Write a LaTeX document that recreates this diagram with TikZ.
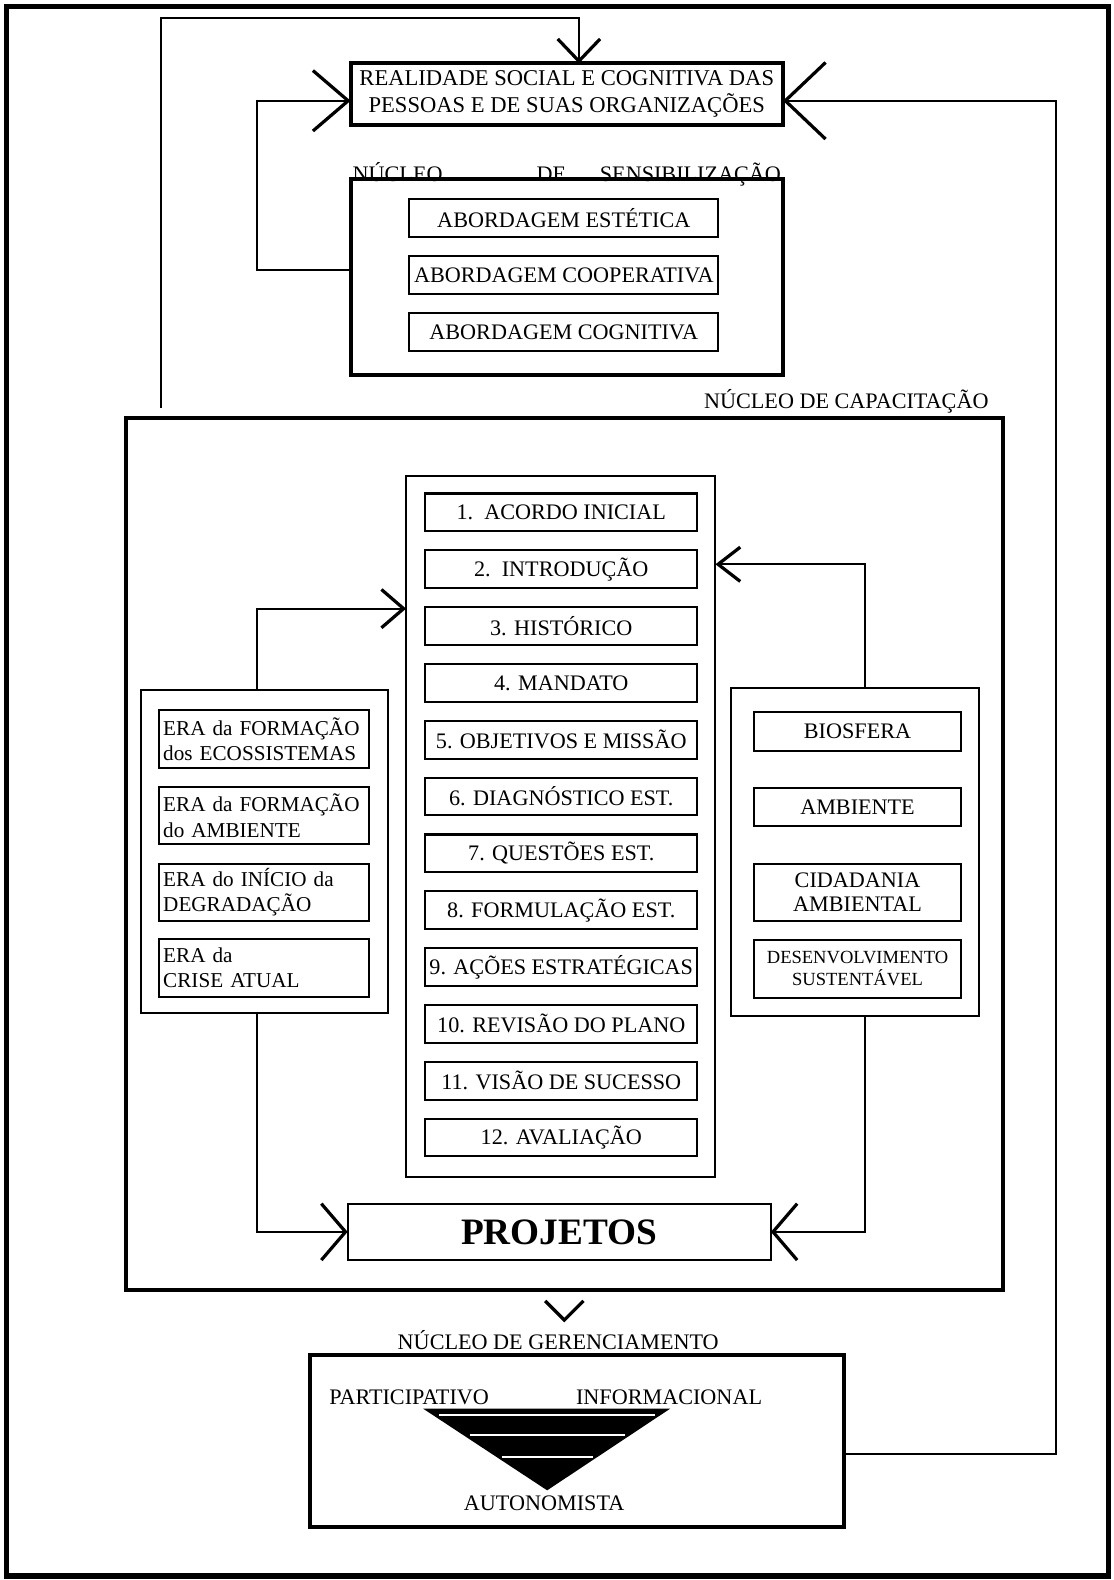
\documentclass[tikz,border=0pt]{standalone}
\usepackage{fontspec}
\setmainfont{Liberation Serif}
\usetikzlibrary{arrows.meta}

\begin{document}
\begin{tikzpicture}[x=0.5pt, y=-0.5pt,
    every node/.style={font=\fontsize{11}{13}\selectfont, inner sep=0pt, outer sep=0pt},
    nucleo/.style={draw, line width=2pt},
    caixa/.style={draw, line width=1pt, align=center},
    era/.style={draw, line width=1pt, align=left, text width=100pt, minimum height=28.5pt, inner xsep=2pt, font=\fontsize{10.5}{12.5}\selectfont},
    tema/.style={draw, line width=1pt, align=center, minimum width=103pt},
    etapa/.style={draw, line width=1pt, minimum width=135pt, minimum height=18.75pt},
    seta/.style 2 args={line width=1pt, -{Straight Barb[length=#1, width=#2, line width=1.6pt]}}]

    \useasboundingbox (0,0) rectangle (1105,1568);
    \draw[line width=2.5pt] (6,6) rectangle (1100,1564);

    % realidade
    \node[nucleo, align=center, minimum width=214.5pt, minimum height=30.5pt, font=\fontsize{11.2}{13.5}\selectfont] (realidade) at (562.5,93.5) {REALIDADE SOCIAL E COGNITIVA DAS\\PESSOAS E DE SUAS ORGANIZAÇÕES};

    % sensibilizacao
    \node[anchor=base] (sens_titulo) at (562.5,180) {\makebox[212.5pt][s]{NÚCLEO\hspace{\stretch{2.8}}DE\hspace{\stretch{1}}SENSIBILIZAÇÃO}};
    \node[nucleo, minimum width=214.5pt, minimum height=97pt] (sens) at (562.5,275) {};
    \foreach \t [count=\i] in {ESTÉTICA, COOPERATIVA, COGNITIVA}
        \node[caixa, minimum width=153.5pt, minimum height=19pt] (abord\i) at (559.5, {216+56.75*(\i-1)}) {ABORDAGEM \t};

    % capacitacao
    \node[anchor=base east] (cap_titulo) at (981,405) {NÚCLEO DE CAPACITAÇÃO};
    \node[nucleo, minimum width=435pt, minimum height=432.5pt] (cap) at (560,847.5) {};

    \node[draw, line width=1pt, minimum width=153.5pt, minimum height=348pt] (plano) at (556.5,820) {};
    \foreach \t [count=\i] in {1.\enspace ACORDO INICIAL, 2.\enspace INTRODUÇÃO, 3. HISTÓRICO, 4. MANDATO,
        5. OBJETIVOS E MISSÃO, 6. DIAGNÓSTICO EST., 7. QUESTÕES EST., 8. FORMULAÇÃO EST.,
        9. AÇÕES ESTRATÉGICAS, 10. REVISÃO DO PLANO, 11. VISÃO DE SUCESSO, 12. AVALIAÇÃO}
        \node[etapa] (etapa\i) at (557, {508.5+56.4*(\i-1)}) {\t};

    \node[draw, line width=1pt, minimum width=122.5pt, minimum height=160pt] (eras) at (262.5,845) {};
    \node[era] (era1) at (262,733.5) {ERA da FORMAÇÃO\\dos ECOSSISTEMAS};
    \node[era] (era2) at (262,809.5) {ERA da FORMAÇÃO\\do AMBIENTE};
    \node[era] (era3) at (262,885.5) {ERA do INÍCIO da\\DEGRADAÇÃO};
    \node[era] (era4) at (262,960.5) {ERA da\\CRISE ATUAL};

    \node[draw, line width=1pt, minimum width=123.5pt, minimum height=162.5pt] (temas) at (848.5,845.5) {};
    \node[tema, minimum height=19pt] (biosfera) at (851,726) {BIOSFERA};
    \node[tema, minimum height=19pt] (ambiente) at (851,801) {AMBIENTE};
    \node[tema, minimum height=28.5pt, font=\fontsize{11}{12}\selectfont] (cidadania) at (851,885.5) {CIDADANIA\\AMBIENTAL};
    \node[tema, minimum height=28.5pt, font=\fontsize{9.2}{11}\selectfont] (desenv) at (851,961.5) {DESENVOLVIMENTO\\SUSTENTÁVEL};

    \node[draw, line width=1pt, minimum width=210pt, minimum height=27.5pt, font=\bfseries\fontsize{18.5}{20}\selectfont] (projetos) at (555,1222.5) {PROJETOS};

    % gerenciamento
    \draw[line width=1.6pt] (541,1291) -- (560,1310) -- (579,1291);
    \node (ger_titulo) at (554,1330) {NÚCLEO DE GERENCIAMENTO};
    \node[nucleo, minimum width=265pt, minimum height=85pt] (ger) at (573,1430) {};
    \node (participativo) at (406,1387) {PARTICIPATIVO};
    \node (informacional) at (664,1387) {INFORMACIONAL};
    \node (autonomista) at (540,1492) {AUTONOMISTA};
    \fill (420,1398) -- (665,1398) -- (543,1479) -- cycle;
    \draw[white, line width=1.2pt] (436,1404) -- (650,1404) (466,1424) -- (620,1424) (498,1446) -- (588,1446);

    % ligacoes
    \coordinate (cantoA) at (160,18);
    \coordinate (cantoB) at (255,100);
    \coordinate (cantoC) at (1048,100);
    \coordinate (cantoD) at (255,604);
    \coordinate (cantoE) at (858,560);
    \draw[seta={11pt}{21pt}] ([yshift=5pt]cap.north -| cantoA) -- (cantoA) -| ([xshift=6pt]realidade.north);
    \draw[seta={17.5pt}{30pt}] ([yshift=3.5pt]sens.west) -| (cantoB) -- (cantoB -| realidade.west);
    \draw[seta={20pt}{38pt}] ([yshift=-6.5pt]ger.east) -| (cantoC) -- (cantoC -| realidade.east);
    \draw[seta={11pt}{19pt}] ([xshift=-3.75pt]eras.north) |- (cantoD -| plano.west);
    \draw[seta={11pt}{17pt}] ([xshift=4.75pt]temas.north) |- (cantoE -| plano.east);
    \draw[seta={12pt}{28pt}] ([xshift=-3.75pt]eras.south) |- (projetos.west);
    \draw[seta={12pt}{28pt}] ([xshift=4.75pt]temas.south) |- (projetos.east);
\end{tikzpicture}
\end{document}
